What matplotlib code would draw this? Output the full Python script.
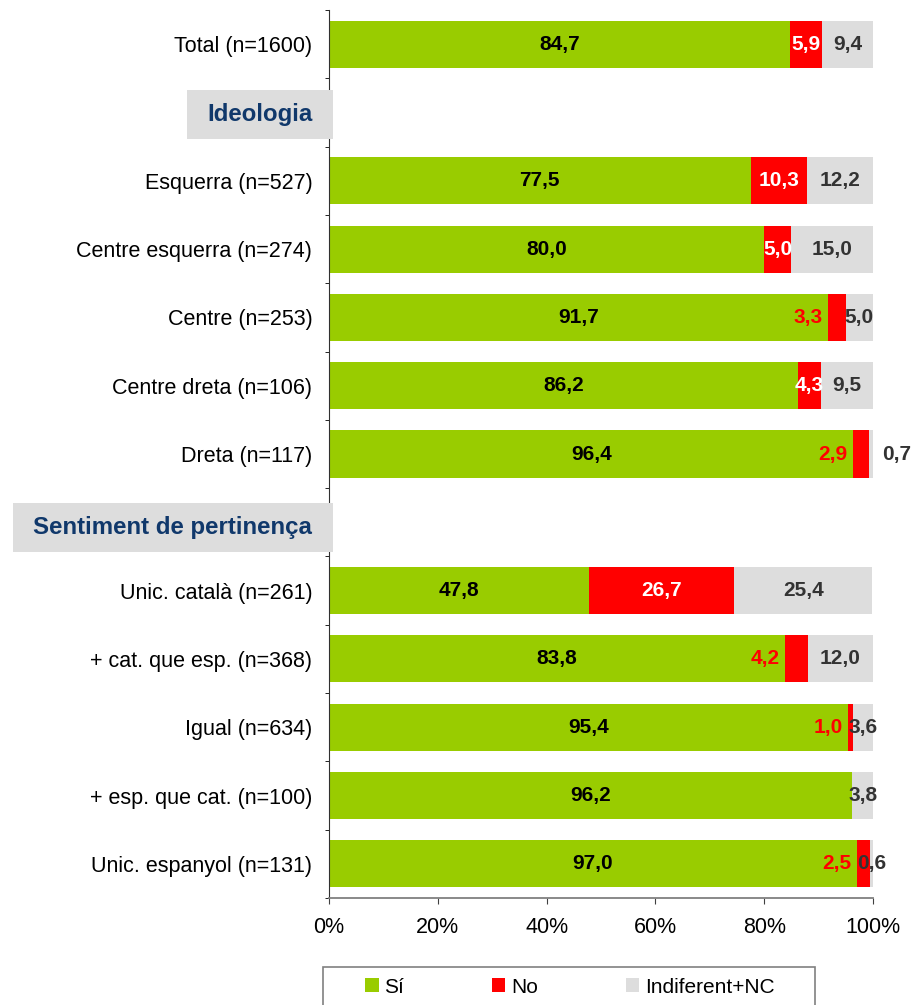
import numpy as np
import matplotlib
matplotlib.use("Agg")
import matplotlib.pyplot as plt
from matplotlib.patches import Patch, Rectangle
from matplotlib.transforms import IdentityTransform

plt.rcParams['font.family'] = ['Liberation Sans', 'DejaVu Sans']

# ---------------- data ----------------
categories = ['Total (n=1600)', 'Ideologia', 'Esquerra (n=527)', 'Centre esquerra (n=274)',
              'Centre (n=253)', 'Centre dreta (n=106)', 'Dreta (n=117)',
              'Sentiment de pertinença', 'Unic. català (n=261)', '+ cat. que esp. (n=368)',
              'Igual (n=634)', '+ esp. que cat. (n=100)', 'Unic. espanyol (n=131)']
headers = ['Ideologia', 'Sentiment de pertinença']
si = [84.7, np.nan, 77.5, 80.0, 91.7, 86.2, 96.4, np.nan, 47.8, 83.8, 95.4, 96.2, 97.0]
no = [5.9, np.nan, 10.3, 5.0, 3.3, 4.3, 2.9, np.nan, 26.7, 4.2, 1.0, 0.0, 2.5]
indif = [9.4, np.nan, 12.2, 15.0, 5.0, 9.5, 0.7, np.nan, 25.4, 12.0, 3.6, 3.8, 0.6]
series_names = ['Sí', 'No', 'Indiferent+NC']
x_ticks = [0, 20, 40, 60, 80, 100]

# label placement style for the "No" and "Indiferent" values
no_label_mode = ['center', None, 'center', 'center', 'left', 'center', 'left',
                 None, 'center', 'left', 'left', None, 'left']
ind_label_mode = ['center', None, 'center', 'center', 'center', 'center', 'out',
                  None, 'center', 'center', 'center', 'center', 'center']
header_shift_px = {'Ideologia': 2, 'Sentiment de pertinença': 5}

C_SI, C_NO, C_IND = '#99CC00', '#FF0000', '#DDDDDD'
HEADER_BLUE = '#10386B'
DARK = '#333333'

def fmt(v):
    return f"{v:.1f}".replace('.', ',')

fig = plt.figure(figsize=(9.14, 10.05), dpi=100)
ax = fig.add_axes([329/914, 1-898/1005, 544/914, 888/1005])

y = np.arange(len(categories))
si_a, no_a, ind_a = np.array(si), np.array(no), np.array(indif)
h = 0.69
ax.barh(y, si_a, height=h, color=C_SI, edgecolor='none', zorder=2)
ax.barh(y, no_a, left=si_a, height=h, color=C_NO, edgecolor='none', zorder=2)
ax.barh(y, ind_a, left=si_a + no_a, height=h, color=C_IND, edgecolor='none', zorder=2)

FS = 15
TFS = 15.5
for i in range(len(categories)):
    if np.isnan(si_a[i]):
        continue
    ax.text(si_a[i] / 2, i, fmt(si_a[i]), ha='center', va='center', fontsize=FS,
            fontweight='bold', color='black', zorder=4)
    m = no_label_mode[i]
    if m == 'center' and no_a[i] > 0:
        ax.text(si_a[i] + no_a[i] / 2, i, fmt(no_a[i]), ha='center', va='center',
                fontsize=FS, fontweight='bold', color='white', zorder=4)
    elif m == 'left' and no_a[i] > 0:
        ax.annotate(fmt(no_a[i]), xy=(si_a[i], i), xytext=(-4, 0), textcoords='offset points',
                    ha='right', va='center', fontsize=FS, fontweight='bold', color=C_NO, zorder=4)
    m = ind_label_mode[i]
    if m == 'center':
        ax.text(si_a[i] + no_a[i] + ind_a[i] / 2, i, fmt(ind_a[i]), ha='center', va='center',
                fontsize=FS, fontweight='bold', color=DARK, zorder=4, clip_on=False)
    elif m == 'out':
        ax.annotate(fmt(ind_a[i]), xy=(si_a[i] + no_a[i] + ind_a[i], i), xytext=(6.5, 0),
                    textcoords='offset points', ha='left', va='center', fontsize=FS,
                    fontweight='bold', color=DARK, zorder=4, annotation_clip=False)

ax.set_xlim(0, 100)
ax.set_ylim(len(categories) - 0.5, -0.5)
ax.set_xticks(x_ticks)
ax.set_xticklabels([f"{t}%" for t in x_ticks], fontsize=TFS)
ax.set_yticks(y)
ax.set_yticklabels(['' if c in headers else c for c in categories], fontsize=TFS)
ax.set_yticks(np.arange(-0.5, len(categories), 1), minor=True)
ax.tick_params(axis='y', which='major', length=0, pad=12)
ax.tick_params(axis='y', which='minor', length=3, direction='out', color='black')
ax.tick_params(axis='x', length=4, direction='out', pad=10, color='#404040')
for s in ['top', 'right']:
    ax.spines[s].set_visible(False)
ax.spines['left'].set_color('#303030')
ax.spines['bottom'].set_color('#808080')
ax.spines['bottom'].set_linewidth(1.3)
ax.spines['bottom'].set_zorder(5)

# header labels with grey boxes
header_texts = []
for i, c in enumerate(categories):
    if c in headers:
        dy = -header_shift_px[c] * 72 / 100
        t = ax.annotate(c, xy=(0, i), xycoords=('axes fraction', 'data'), xytext=(-12, dy),
                        textcoords='offset points', ha='right', va='center', fontsize=17.3,
                        fontweight='bold', color=HEADER_BLUE, zorder=10, annotation_clip=False)
        header_texts.append((i, c, t))

fig.canvas.draw()
r = fig.canvas.get_renderer()
for i, c, t in header_texts:
    ext = t.get_window_extent(r)
    yc = ax.transData.transform((0, i))[1] - header_shift_px[c]
    x0 = ext.x0 - 20
    x1 = ax.transAxes.transform((0, 0))[0] + 4
    rect = Rectangle((x0, yc - 24.5), x1 - x0, 49, transform=IdentityTransform(),
                     facecolor=C_IND, edgecolor='none', zorder=8, clip_on=False)
    ax.add_artist(rect)

# legend
handles = [Patch(facecolor=c, edgecolor='none', label=n) for c, n in zip([C_SI, C_NO, C_IND], series_names)]
fig.legend(handles=handles, loc='center left', bbox_to_anchor=(365/914, 1-987/1005), ncol=3,
           frameon=False, fontsize=FS, handlelength=0.65, handleheight=0.65, handletextpad=0.28,
           columnspacing=4.2, borderpad=0, borderaxespad=0)
fig.add_artist(Rectangle((323/914, -0.01), 492/914, 0.01 + 38/1005, transform=fig.transFigure,
                         facecolor='none', edgecolor='#808080', lw=1.2, clip_on=False))

fig.savefig('out.png', dpi=100)
